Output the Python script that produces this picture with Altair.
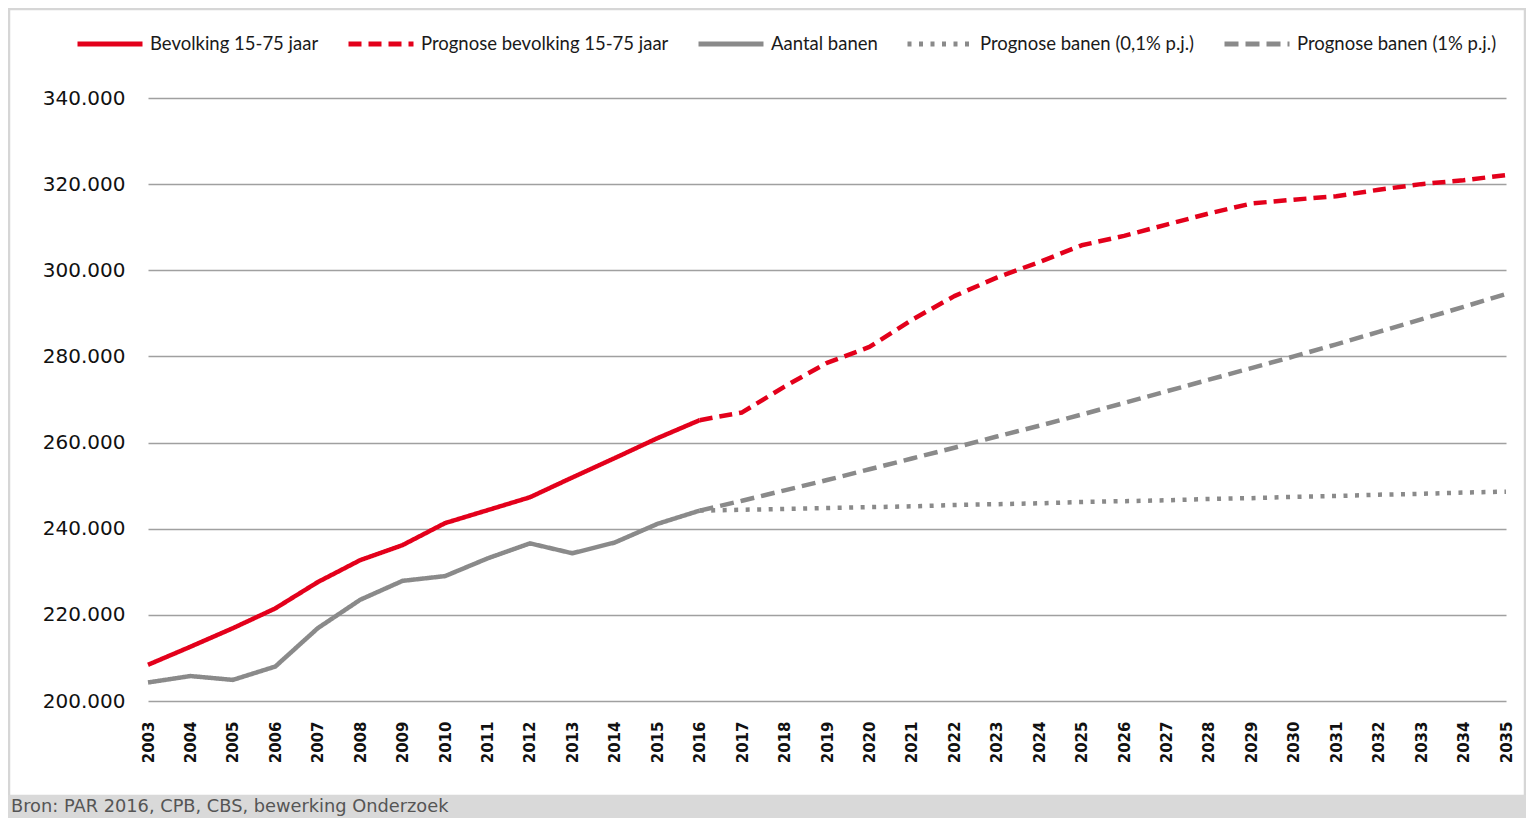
import altair as alt
import pandas as pd

# ---- data ----
years_hist = [2003, 2004, 2005, 2006, 2007, 2008, 2009, 2010, 2011, 2012, 2013, 2014, 2015, 2016]
years_prog = [2016, 2017, 2018, 2019, 2020, 2021, 2022, 2023, 2024, 2025, 2026, 2027, 2028,
              2029, 2030, 2031, 2032, 2033, 2034, 2035]

bevolking = [208400, 212600, 216900, 221500, 227600, 232700, 236200, 241300, 244300, 247300,
             251900, 256400, 261000, 265200]
banen = [204300, 205800, 204900, 208000, 216900, 223500, 227900, 229000, 233100, 236600,
         234300, 236800, 241100, 244200]
prognose_bevolking = [265200, 267000, 273000, 278500, 282200, 288500, 294000, 298300, 301900,
                      305800, 308000, 310600, 313200, 315500, 316400, 317200, 318700, 320000,
                      320900, 322100]
prognose_banen_01 = [244200, 244400, 244600, 244800, 245000, 245200, 245500, 245700, 245900,
                     246200, 246400, 246600, 246900, 247100, 247400, 247600, 247900, 248100,
                     248400, 248600]
prognose_banen_1 = [244200, 246500, 248900, 251300, 253800, 256300, 258800, 261400, 263900,
                    266500, 269200, 271900, 274600, 277300, 280000, 282800, 285700, 288600,
                    291500, 294500]

series_names = ["Bevolking 15-75 jaar", "Prognose bevolking 15-75 jaar", "Aantal banen",
                "Prognose banen (0,1% p.j.)", "Prognose banen (1% p.j.)"]
x_ticks = years_hist + years_prog[1:]
y_ticks = [200000, 220000, 240000, 260000, 280000, 300000, 320000, 340000]
source_text = "Bron: PAR 2016, CPB, CBS, bewerking Onderzoek"

rows = []
for name, yrs, vals in [
    (series_names[0], years_hist, bevolking),
    (series_names[1], years_prog, prognose_bevolking),
    (series_names[2], years_hist, banen),
    (series_names[3], years_prog, prognose_banen_01),
    (series_names[4], years_prog, prognose_banen_1),
]:
    for yr, v in zip(yrs, vals):
        rows.append({"series": name, "year": yr, "value": v})
df = pd.DataFrame(rows)

RED = "#e3001b"
GRAY = "#8a8a8a"
colors = [RED, RED, GRAY, GRAY, GRAY]
dashes = [[1, 0], [13, 7], [1, 0], [4, 7.5], [14, 7]]

W, H = 1358, 603

legend = alt.Legend(
    orient="none", legendX=-73, legendY=-89, direction="horizontal", title=None,
    symbolType="stroke", symbolSize=4225, symbolStrokeWidth=5,
    labelFont="Lato", labelFontSize=18.5, labelColor="#1a1a1a", labelOffset=5,
    columnPadding=19, labelLimit=500, padding=0,
)

lines = alt.Chart(df).mark_line(strokeWidth=4.5, strokeCap="butt", strokeJoin="round").encode(
    x=alt.X("year:Q", scale=alt.Scale(domain=[2003, 2035], nice=False, zero=False),
            axis=alt.Axis(values=x_ticks, format="d", labelAngle=-90, title=None, grid=False,
                          ticks=False, domain=False, labelPadding=20, labelFont="DejaVu Sans",
                          labelFontSize=15, labelFontWeight="bold", labelColor="#111111")),
    y=alt.Y("value:Q", scale=alt.Scale(domain=[200000, 340000], nice=False, zero=False),
            axis=alt.Axis(values=y_ticks,
                          labelExpr="replace(format(datum.value, ','), ',', '.')",
                          title=None, ticks=False, domain=False, grid=True,
                          gridColor="#a0a0a0", gridWidth=1.5, labelPadding=23,
                          labelFont="DejaVu Sans", labelFontSize=20, labelColor="#111111")),
    color=alt.Color("series:N", scale=alt.Scale(domain=series_names, range=colors), legend=legend),
    strokeDash=alt.StrokeDash("series:N", scale=alt.Scale(domain=series_names, range=dashes),
                              legend=legend),
    order=alt.Order("year:Q"),
)

dummy = pd.DataFrame({"a": [0]})

frame = alt.Chart(dummy).mark_rect(fill="transparent", stroke="#d6d6d6", strokeWidth=2.5).encode(
    x=alt.value(-139), x2=alt.value(W + 19), y=alt.value(-89), y2=alt.value(H + 95)
)
footer = alt.Chart(dummy).mark_rect(fill="#d9d9d9").encode(
    x=alt.value(-140), x2=alt.value(W + 20), y=alt.value(H + 94), y2=alt.value(H + 117)
)
footer_text = alt.Chart(dummy).mark_text(
    align="left", baseline="alphabetic", font="DejaVu Sans", fontSize=17.8, color="#555555"
).encode(x=alt.value(-137), y=alt.value(H + 111), text=alt.value(source_text))

chart = alt.layer(frame, footer, lines, footer_text).properties(
    width=W, height=H,
    autosize=alt.AutoSizeParams(type="none"),
    padding={"left": 140, "top": 90, "right": 20, "bottom": 117},
    background="white",
).configure_view(stroke=None)

chart.save("out.html", embed_options={"renderer": "svg", "actions": False})
